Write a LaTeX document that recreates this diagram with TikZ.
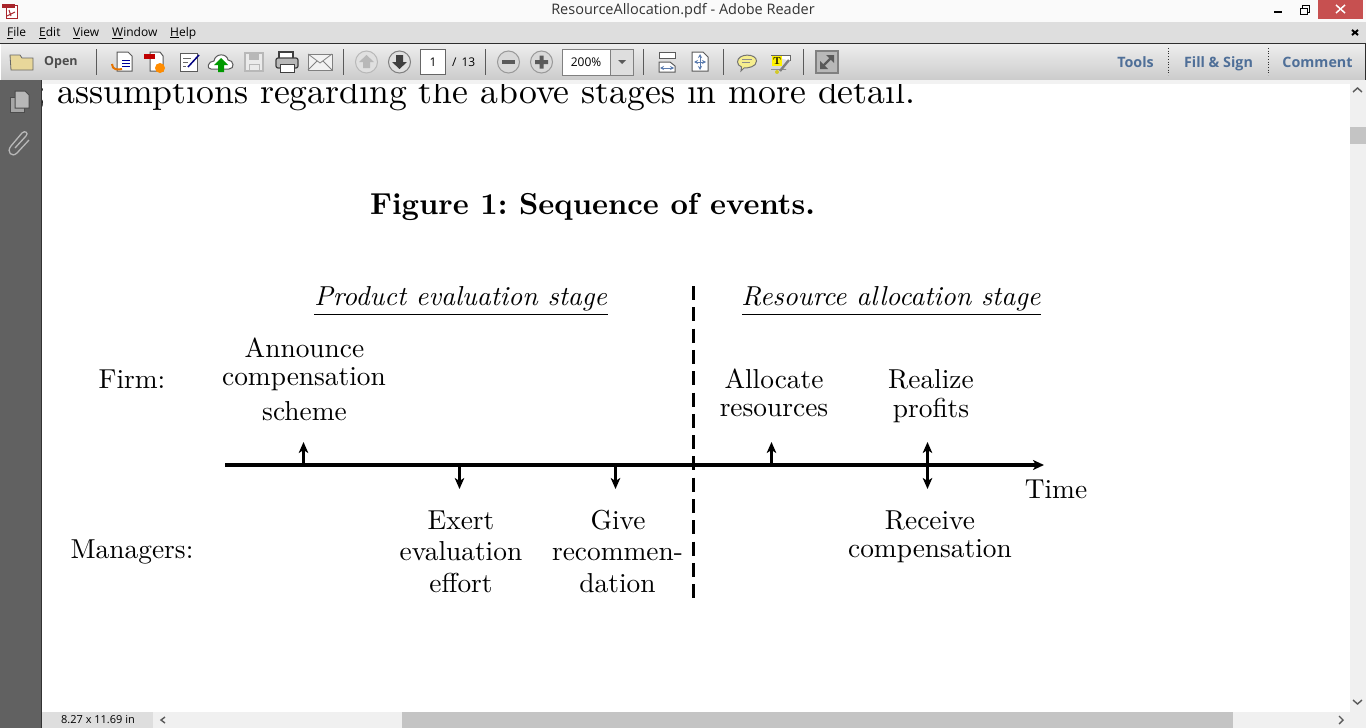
\documentclass[tikz,border=0pt]{standalone}
\usepackage{fontspec}
\setmainfont{lmroman10-regular.otf}[ItalicFont=lmroman10-italic.otf,BoldFont=lmroman10-bold.otf]
\newfontfamily\uifont{Open Sans}
\frenchspacing
\definecolor{menubg}{HTML}{DEDEDE}
\definecolor{tbtop}{HTML}{EEEEEE}
\definecolor{tbbot}{HTML}{CCCCCC}
\definecolor{panel}{HTML}{616161}
\definecolor{edge}{HTML}{2E2E2E}
\definecolor{scroll}{HTML}{F0F0F0}
\definecolor{thumb}{HTML}{C4C4C4}
\definecolor{toolblue}{HTML}{4F6F98}
\definecolor{closered}{HTML}{C75050}
\definecolor{pdfred}{HTML}{A8242B}
\definecolor{icong}{HTML}{5A5A5A}
\definecolor{lightg}{HTML}{B8B8B8}
\definecolor{folder}{HTML}{E8D79A}
\definecolor{fitblue}{HTML}{5B7BAE}
\definecolor{bubble}{HTML}{F6EE8E}
\tikzset{
  x=1pt,y=-1pt,
  ui/.style={font=\uifont\fontsize{12}{14}\selectfont,inner sep=0pt,text=black},
  uitool/.style={font=\uifont\bfseries\fontsize{14.3}{16}\selectfont,inner sep=0pt,text=toolblue},
  lab/.style={font=\fontsize{27.4}{30}\selectfont,inner sep=0pt,align=center},
  stage/.style={font=\itshape\fontsize{27.4}{30}\selectfont,inner sep=0pt},
  rule/.style={line width=.9pt},
  sep/.style={draw=icong,line width=1pt},
  timeline/.style={line width=3.2pt,-{Stealth[length=11pt,width=10pt,inset=3pt]}},
  tick/.style={line width=2.7pt,-{Stealth[length=11pt,width=9.5pt,inset=3pt]}},
  tickb/.style={line width=2.7pt,{Stealth[length=11pt,width=9.5pt,inset=3pt]}-{Stealth[length=11pt,width=9.5pt,inset=3pt]}},
  divider/.style={line width=3pt,dash pattern=on 14pt off 7.3pt},
  icon/.style={draw=icong,line width=1pt,fill=white},
  fitarrow/.style={draw=fitblue,line width=1pt,{Stealth[length=4pt,width=4pt]}-{Stealth[length=4pt,width=4pt]}},
}
\usetikzlibrary{arrows.meta}
\begin{document}
\begin{tikzpicture}
\useasboundingbox (0,0) rectangle (1366,728);
\fill[white] (0,0) rectangle (1366,728);
\fill[white!98!black] (0,0) rectangle (1366,22);
\fill[menubg] (0,22) rectangle (1366,43);
\shade[top color=tbtop,bottom color=tbbot] (1,44) rectangle (1365,79);
\draw[edge,line width=1pt] (0,43.5) -- (1365.5,43.5) -- (1365.5,80) -- (0,80);
\node[ui,font=\uifont\fontsize{14.5}{16}\selectfont,text=black!80] (title) at (683,11) {ResourceAllocation.pdf - Adobe Reader};
\fill[closered] (1318,0) rectangle (1363,19);
\draw[white,line width=1.5pt] (1336,5) -- (1345,13) (1345,5) -- (1336,13);
\draw[black,line width=1.8pt] (1274,12) -- (1282,12);
\draw[black,line width=1pt] (1300,8) rectangle (1307,14);
\draw[black,line width=1pt] (1302,8) -- (1302,5.5) -- (1309,5.5) -- (1309,12) -- (1307,12);
\draw[black,line width=2pt] (1352,30) -- (1358,35) (1358,30) -- (1352,35);
\draw[fill=white,draw=pdfred,line width=.8pt] (6,5) rectangle (17,18);
\fill[pdfred] (2,4) rectangle (15,8);
\draw[pdfred,line width=1pt] (9,10) -- (11,16) (7,16) -- (15,12);
\node[ui,anchor=west] (mfile) at (7,33) {\underline{F}ile};
\node[ui,anchor=west] (medit) at (39,33) {\underline{E}dit};
\node[ui,anchor=west] (mview) at (73,33) {\underline{V}iew};
\node[ui,anchor=west] (mwin) at (112,33) {\underline{W}indow};
\node[ui,anchor=west] (mhelp) at (170,33) {\underline{H}elp};
\draw[draw=black!60,fill=folder,line width=.8pt] (11,70) -- (10,55) -- (20,55) -- (22,58) -- (33,58) -- (33,70) -- cycle;
\node[ui,font=\uifont\bfseries\fontsize{12.5}{14}\selectfont,text=black!70,anchor=west] (open) at (44,62) {Open};
\foreach \x in {96.5,343.5,485.5,643.5,723.5,803.5} \draw[sep] (\x,49) -- (\x,75);
\draw[icon] (117,52) -- (128,52) -- (132,56) -- (132,71) -- (117,71) -- cycle;
\draw[blue!60!black,line width=1pt] (122,60) -- (130,60) (122,63) -- (130,63) (122,66) -- (130,66);
\draw[orange!90!black,line width=2pt] (112,64) .. controls (112,70) and (118,70) .. (122,69);
\draw[icon] (150,52) -- (160,52) -- (163,56) -- (163,71) -- (150,71) -- cycle;
\fill[red!75!black] (144,54) rectangle (155,59);
\fill[orange!90!yellow] (160,68) circle (5);
\draw[icon] (180,53) rectangle (197,71);
\draw[blue!50!black,line width=1.5pt] (188,67) -- (199,55);
\draw[black!60,line width=1pt] (183,58) -- (191,58) (183,62) -- (188,62) (183,66) -- (186,66);
\draw[icon] (211,69) .. controls (206,69) and (208,61) .. (214,61) .. controls (215,53) and (227,53) .. (228,60) .. controls (234,60) and (235,69) .. (229,69) -- cycle;
\fill[green!60!black] (221,58) -- (228,65) -- (224,65) -- (224,72) -- (218,72) -- (218,65) -- (214,65) -- cycle;
\draw[lightg,line width=1.2pt,fill=white!92!black] (245,53) rectangle (263,71);
\fill[lightg] (249,53) rectangle (259,60);
\draw[lightg,line width=1pt] (249,64) rectangle (259,71);
\draw[icon,draw=icong!70!black,line width=1.2pt] (279,52) rectangle (293,60);
\draw[draw=icong!70!black,fill=lightg,line width=1.2pt,rounded corners=2pt] (276,58) rectangle (298,68);
\draw[icon,draw=icong!70!black] (280,64) rectangle (294,72);
\draw[draw=black!50,fill=white!95!black,line width=1pt] (308,54) rectangle (332,70);
\draw[black!50,line width=.8pt] (308,54) -- (320,63) -- (332,54) (308,70) -- (317,61) (332,70) -- (323,61);
\draw[lightg,fill=white!88!black,line width=1pt] (366.5,62) circle (11);
\fill[lightg] (366.5,55) -- (374,62) -- (370,62) -- (370,68) -- (363,68) -- (363,62) -- (359,62) -- cycle;
\draw[black!50,fill=white!88!black,line width=1pt] (399.5,62) circle (11);
\fill[icong!70!black] (399.5,69) -- (407,62) -- (403,62) -- (403,55) -- (396,55) -- (396,62) -- (392,62) -- cycle;
\draw[black!60,fill=white,line width=1pt] (420.5,49.5) rectangle (445.5,74.5);
\node[ui] (pg) at (433,62) {1};
\node[ui,anchor=west] (pgs) at (452,62) {/\hspace{5pt}13};
\draw[black!40,fill=white!85!black,line width=1pt] (508.5,62) circle (11);
\fill[icong] (502,60) rectangle (515,64);
\draw[black!40,fill=white!85!black,line width=1pt] (541.5,62) circle (11);
\fill[icong] (535,60) rectangle (548,64) (539.5,55.5) rectangle (543.5,68.5);
\draw[black!50,fill=white,line width=1pt] (562,49.5) rectangle (633,75);
\fill[menubg] (611,50) rectangle (632.5,74.5);
\draw[black!50,line width=.8pt] (610.5,49.5) -- (610.5,75);
\node[ui] (zoomval) at (586,62) {200\%};
\fill[icong] (618,60) -- (626,60) -- (622,64) -- cycle;
% fit width
\draw[icong,line width=1pt] (659,52) -- (659,58) -- (675,58) -- (675,52);
\draw[icong,line width=1pt] (659,52) -- (675,52);
\fill[white] (659.5,52.5) rectangle (674.5,57.5);
\draw[icon] (659,62) -- (670,62) -- (675,66) -- (675,72) -- (659,72) -- cycle;
\draw[fitarrow] (660,68) -- (674,68);
% fit page
\draw[icon] (692,52) -- (703,52) -- (708,57) -- (708,71) -- (692,71) -- cycle;
\draw[fitarrow] (694,62) -- (706,62);
\draw[fitarrow] (700,54) -- (700,70);
% comment bubble
\draw[draw=black!55,fill=bubble,line width=1pt] (737.5,62) .. controls (737.5,53) and (756.5,53) .. (756.5,61) .. controls (756.5,67) and (748,68) .. (744,68) -- (741,71) -- (741.5,67) .. controls (739,66) and (737.5,64) .. (737.5,62) -- cycle;
\draw[black!45,line width=.8pt] (742,59.5) -- (752,59.5) (742,62.5) -- (750,62.5);
% highlight note
\draw[black!60,fill=white,line width=1pt] (771,55) -- (790,55) -- (790,61) (786,69) -- (771,69) -- cycle;
\fill[yellow] (772,56) rectangle (782,66);
\node[inner sep=0pt,font=\bfseries\fontsize{10}{10}\selectfont] (tsym) at (777,61) {T};
\draw[black!50,line width=2.4pt] (780,71) -- (789,60);
\fill[yellow!80!black] (777,72) circle (2);
% fullscreen
\draw[black!50,fill=lightg,line width=1.2pt] (816,51) rectangle (838,73);
\fill[icong] (820,69) -- (820,61) -- (828,69) -- cycle;
\fill[icong] (834,55) -- (834,63) -- (826,55) -- cycle;
\draw[icong,line width=2.4pt] (823,66) -- (831,58);
\node[uitool,anchor=base] (tools) at (1135.5,67) {Tools};
\node[uitool,anchor=base] (fill) at (1218.5,67) {Fill \& Sign};
\node[uitool,anchor=base] (comment) at (1317.5,67) {Comment};
\foreach \x in {1168.5,1268.5} \draw[edge,line width=.7pt,dotted] (\x,48) -- (\x,75);
\fill[panel] (0,80) rectangle (41,728);
\draw[black!80,line width=1pt] (41.5,80) -- (41.5,728);
% page thumbnails and paperclip
\draw[black!70,fill=lightg!90!black,line width=1pt] (10,97) rectangle (24,112);
\draw[black!70,fill=lightg,line width=1pt] (15,91) -- (25,91) -- (29,95) -- (29,108) -- (15,108) -- cycle;
\draw[lightg,line width=1.3pt] (15,148) -- (26,136) .. controls (29,133) and (25,130) .. (22,133) -- (11,146) .. controls (6,152) and (12,158) .. (17,153) -- (29,140);
% scrollbars, status
\fill[white!95!black] (42,80) rectangle (1350,84);
\fill[scroll] (1350,80) rectangle (1366,728);
\fill[thumb] (1350,127) rectangle (1366,144);
\draw[icong,line width=1.4pt] (1353,92) -- (1357.5,88) -- (1362,92);
\draw[icong,line width=1.4pt] (1353,700) -- (1357.5,704) -- (1362,700);
\fill[scroll] (42,712) rectangle (1366,728);
\fill[menubg] (42,712) rectangle (153,728);
\fill[thumb] (402,712) rectangle (1233,728);
\node[ui,font=\uifont\fontsize{11}{13}\selectfont] (size) at (98,720) {8.27 x 11.69 in};
\draw[icong,line width=1.4pt] (165,717) -- (161,720) -- (165,723);
\draw[icong,line width=1.4pt] (1339,716) -- (1343,720) -- (1339,724);
\begin{scope}
\clip (42,84) rectangle (1349,140);
\node[font=\fontsize{35.7}{38}\selectfont,inner sep=0pt,anchor=base west] (body) at (57,103) {assumptions regarding the above stages in more detail.};
\node[font=\fontsize{35.7}{38}\selectfont,inner sep=0pt,anchor=base east] (semi) at (47,103) {;};
\end{scope}
\node[font=\bfseries\fontsize{30.3}{32}\selectfont,inner sep=0pt,anchor=base] (fig) at (592.5,214) {Figure 1: Sequence of events.};
\node[stage,anchor=base] (pes) at (460.7,305) {Product evaluation stage};
\node[stage,anchor=base] (ras) at (891,305) {Resource allocation stage};
\coordinate (pesl) at (314,314); \coordinate (pesr) at (608,314);
\coordinate (rasl) at (742,314); \coordinate (rasr) at (1041,314);
\draw[rule] (pesl) -- (pesr);
\draw[rule] (rasl) -- (rasr);
\node[lab,anchor=base] (firm) at (132,388.5) {Firm:};
\node[lab,anchor=base] (mgr) at (132,558.5) {Managers:};
\node[lab,anchor=base] (a1) at (304.5,357) {Announce};
\node[lab,anchor=base] (a2) at (304,385.5) {compensation};
\node[lab,anchor=base] (a3) at (304.5,420) {scheme};
\node[lab,anchor=base] (b1) at (774,388.5) {Allocate};
\node[lab,anchor=base] (b2) at (774,416) {resources};
\node[lab,anchor=base] (c1) at (931,388.5) {Realize};
\node[lab,anchor=base] (c2) at (931,417) {profits};
\node[lab,anchor=base] (d1) at (461,529) {Exert};
\node[lab,anchor=base] (d2) at (461,560) {evaluation};
\node[lab,anchor=base] (d3) at (461,592) {effort};
\node[lab,anchor=base] (e1) at (618,529) {Give};
\node[lab,anchor=base] (e2) at (617.5,560) {recommen-};
\node[lab,anchor=base] (e3) at (617.5,592) {dation};
\node[lab,anchor=base] (f1) at (930,529) {Receive};
\node[lab,anchor=base] (f2) at (930,557) {compensation};
\node[lab,anchor=base] (time) at (1056,498) {Time};
\coordinate (t0) at (225,465); \coordinate (t1) at (1044,465);
\draw[timeline] (t0) -- (t1);
\coordinate (p1) at (303.5,465); \coordinate (p1u) at (303.5,442);
\coordinate (p2) at (459.5,465); \coordinate (p2d) at (459.5,489);
\coordinate (p3) at (615.5,465); \coordinate (p3d) at (615.5,489);
\coordinate (p4) at (771.5,465); \coordinate (p4u) at (771.5,442);
\coordinate (p5u) at (927.5,442); \coordinate (p5d) at (927.5,489);
\draw[tick] (p1) -- (p1u);
\draw[tick] (p2) -- (p2d);
\draw[tick] (p3) -- (p3d);
\draw[tick] (p4) -- (p4u);
\draw[tickb] (p5d) -- (p5u);
\coordinate (dv0) at (693.5,286); \coordinate (dv1) at (693.5,598);
\draw[divider] (dv0) -- (dv1);
\end{tikzpicture}
\end{document}
